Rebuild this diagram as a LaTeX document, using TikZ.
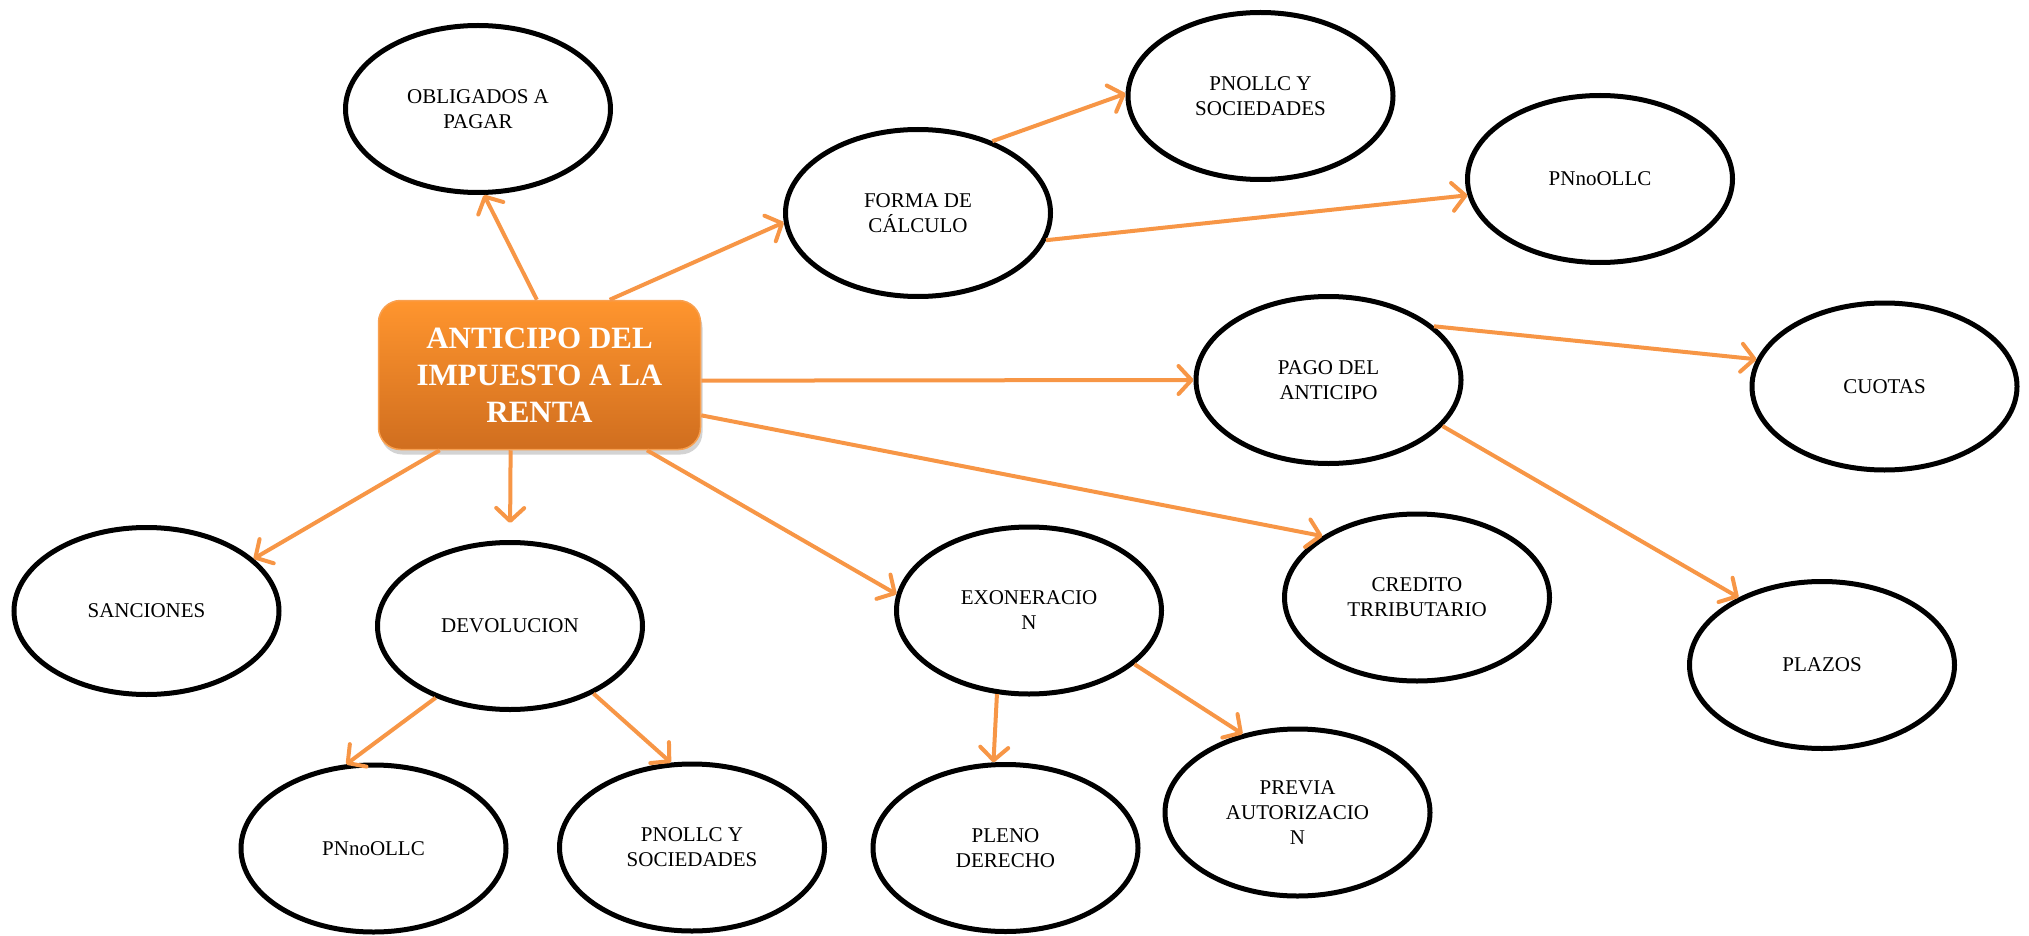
\documentclass[tikz,border=0pt]{standalone}
\usepackage{fontspec}
\setmainfont{Liberation Serif}
\usetikzlibrary{shapes.geometric,arrows.meta,shadows}
\definecolor{arr}{HTML}{F79646}
\definecolor{boxtop}{HTML}{FF952E}
\definecolor{boxbot}{HTML}{D06E1F}
\definecolor{boxline}{HTML}{F8A050}
\begin{document}
\begin{tikzpicture}[x=1pt,y=-1pt,
  ell/.style={ellipse, draw=black, line width=5pt, minimum width=265pt, minimum height=167pt,
    inner sep=0pt, align=center, font=\fontsize{21}{25}\selectfont},
  mainbox/.style={rectangle, rounded corners=22pt, minimum width=322pt, minimum height=149pt,
    top color=boxtop, bottom color=boxbot, draw=boxline, line width=1.5pt,
    drop shadow={opacity=0.35, shadow xshift=2pt, shadow yshift=-5pt},
    text=white, align=center, inner sep=0pt, font=\fontsize{31}{37}\selectfont\bfseries},
  conn/.style={draw=arr, line width=4pt, -{Straight Barb[length=13pt,width=28pt,round]}}
]
\useasboundingbox (0,0) rectangle (2029,936);

\node[mainbox] (C) at (539.5,375) {ANTICIPO DEL\\IMPUESTO A LA\\RENTA};

\node[ell] (obl) at (478,109) {OBLIGADOS A\\PAGAR};
\node[ell] (forma) at (918,213) {FORMA DE\\CÁLCULO};
\node[ell] (pnsoc1) at (1260.5,96) {PNOLLC Y\\SOCIEDADES};
\node[ell] (pnno1) at (1600,179) {PNnoOLLC};
\node[ell] (pago) at (1328.5,380) {PAGO DEL\\ANTICIPO};
\node[ell] (cuotas) at (1884.5,386.5) {CUOTAS};
\node[ell] (plazos) at (1822,665) {PLAZOS};
\node[ell] (credito) at (1417,597.5) {CREDITO\\TRRIBUTARIO};
\node[ell] (sanc) at (146.5,611) {SANCIONES};
\node[ell] (devol) at (510,626) {DEVOLUCION};
\node[ell] (pnno2) at (373.5,848.5) {PNnoOLLC};
\node[ell] (pnsoc2) at (692,847.5) {PNOLLC Y\\SOCIEDADES};
\node[ell] (exon) at (1029,610.5) {EXONERACIO\\N};
\node[ell] (pleno) at (1005.5,848) {PLENO\\DERECHO};
\node[ell] (previa) at (1297.5,812.5) {PREVIA\\AUTORIZACIO\\N};

\draw[conn] (C.92) -- (obl.274.4);
\draw[conn] (C.47) -- (forma.184.6);
\draw[conn] (forma.44.2) -- (pnsoc1.179.1);
\draw[conn] (forma.-12.5) -- (pnno1.187.6);
\draw[conn] (C.-2) -- (pago.180);
\draw[conn] (C.-14) -- (credito.147.8);
\draw[conn] (pago.27.3) -- (cuotas.168.9);
\draw[conn] (pago.-22.5) -- (plazos.141.9);
\draw[conn] (C.217) -- (sanc.26.1);
\draw[conn, shorten >=17pt] (C.249) -- (devol.north);
\draw[conn] (C.-35.6) -- (exon.173.9);
\draw[conn] (devol.224.6) -- (pnno2.108);
\draw[conn] (devol.-39.9) -- (pnsoc2.104.3);
\draw[conn] (exon.249) -- (pleno.98.2);
\draw[conn] (exon.-27.4) -- (previa.125.7);
\end{tikzpicture}
\end{document}
